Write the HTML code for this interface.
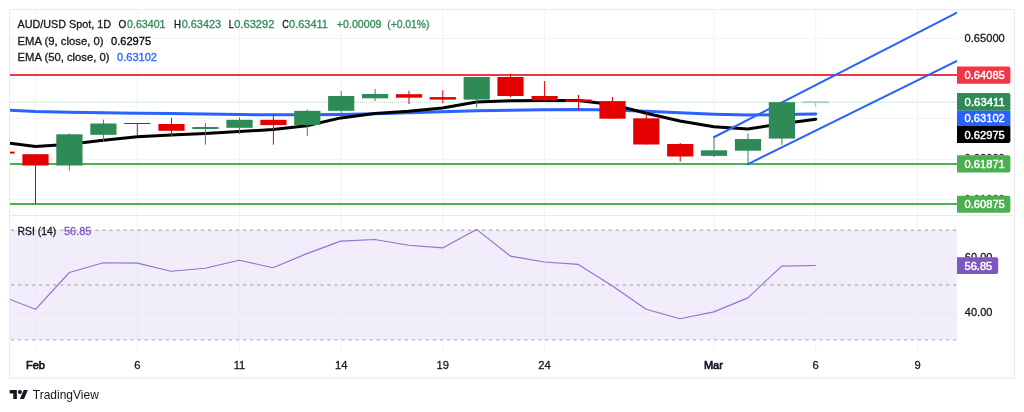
<!DOCTYPE html>
<html><head><meta charset="utf-8"><title>AUD/USD chart</title>
<style>html,body{margin:0;padding:0;background:#fff}body{width:1024px;height:412px;position:relative;overflow:hidden;font-family:"Liberation Sans",sans-serif}</style></head>
<body>
<svg width="1024" height="412" viewBox="0 0 1024 412" style="position:absolute;left:0;top:0;will-change:transform">
<defs><clipPath id="plot"><rect x="10" y="10" width="947" height="205"/></clipPath><clipPath id="rsip"><rect x="10" y="216" width="947" height="135"/></clipPath></defs>
<rect x="35.0" y="10" width="1" height="205" fill="#f3f4f7"/>
<rect x="35.0" y="216" width="1" height="135" fill="#f3f4f7"/>
<rect x="136.8" y="10" width="1" height="205" fill="#f3f4f7"/>
<rect x="136.8" y="216" width="1" height="135" fill="#f3f4f7"/>
<rect x="239.0" y="10" width="1" height="205" fill="#f3f4f7"/>
<rect x="239.0" y="216" width="1" height="135" fill="#f3f4f7"/>
<rect x="340.7" y="10" width="1" height="205" fill="#f3f4f7"/>
<rect x="340.7" y="216" width="1" height="135" fill="#f3f4f7"/>
<rect x="442.3" y="10" width="1" height="205" fill="#f3f4f7"/>
<rect x="442.3" y="216" width="1" height="135" fill="#f3f4f7"/>
<rect x="544.1" y="10" width="1" height="205" fill="#f3f4f7"/>
<rect x="544.1" y="216" width="1" height="135" fill="#f3f4f7"/>
<rect x="713.5" y="10" width="1" height="205" fill="#f3f4f7"/>
<rect x="713.5" y="216" width="1" height="135" fill="#f3f4f7"/>
<rect x="815.2" y="10" width="1" height="205" fill="#f3f4f7"/>
<rect x="815.2" y="216" width="1" height="135" fill="#f3f4f7"/>
<rect x="917.0" y="10" width="1" height="205" fill="#f3f4f7"/>
<rect x="917.0" y="216" width="1" height="135" fill="#f3f4f7"/>
<rect x="10" y="38" width="947" height="1" fill="#f3f4f7"/>
<rect x="10" y="78" width="947" height="1" fill="#f3f4f7"/>
<rect x="10" y="118" width="947" height="1" fill="#f3f4f7"/>
<rect x="10" y="159" width="947" height="1" fill="#f3f4f7"/>
<rect x="10" y="199" width="947" height="1" fill="#f3f4f7"/>
<rect x="10" y="230" width="947" height="110" fill="#f1edfa"/>
<rect x="35.0" y="230" width="1" height="110" fill="#ece8f6"/>
<rect x="136.8" y="230" width="1" height="110" fill="#ece8f6"/>
<rect x="239.0" y="230" width="1" height="110" fill="#ece8f6"/>
<rect x="340.7" y="230" width="1" height="110" fill="#ece8f6"/>
<rect x="442.3" y="230" width="1" height="110" fill="#ece8f6"/>
<rect x="544.1" y="230" width="1" height="110" fill="#ece8f6"/>
<rect x="713.5" y="230" width="1" height="110" fill="#ece8f6"/>
<rect x="815.2" y="230" width="1" height="110" fill="#ece8f6"/>
<rect x="917.0" y="230" width="1" height="110" fill="#ece8f6"/>
<rect x="10" y="257" width="947" height="1" fill="#ece8f6"/>
<rect x="10" y="312" width="947" height="1" fill="#ece8f6"/>
<line x1="10" y1="230.2" x2="957" y2="230.2" stroke="#b8b8bc" stroke-width="1.4" stroke-dasharray="3.2 3.83" stroke-dashoffset="-1"/>
<line x1="10" y1="285" x2="957" y2="285" stroke="#b8b8bc" stroke-width="1.4" stroke-dasharray="3.2 3.83" stroke-dashoffset="-1"/>
<line x1="10" y1="339.9" x2="957" y2="339.9" stroke="#b8b8bc" stroke-width="1.4" stroke-dasharray="3.2 3.83" stroke-dashoffset="-1"/>
<polyline clip-path="url(#rsip)" points="10.0,299.5 35.5,309.3 69.4,272.5 103.3,262.7 137.3,263.1 171.2,271.3 205.1,268.2 239.0,260.2 272.9,267.7 306.8,253.6 340.8,241.1 374.7,239.5 408.6,245.2 442.5,247.9 476.5,229.4 510.4,256.1 544.3,262.0 578.2,264.4 612.1,285.7 646.1,309.2 680.0,318.8 713.9,311.9 747.8,297.9 781.7,266.1 815.7,265.5" fill="none" stroke="#9273cf" stroke-width="1.15" stroke-linejoin="round"/>
<g clip-path="url(#plot)">
<line x1="10" y1="102.2" x2="957" y2="102.2" stroke="#9cc4ad" stroke-width="1" stroke-dasharray="1 1" opacity="0.75"/>
<rect x="10" y="74" width="947" height="2" fill="#f23645"/>
<rect x="10" y="163" width="947" height="2" fill="#4caf50"/>
<rect x="10" y="203" width="947" height="2" fill="#4caf50"/>
<polyline points="10.0,110.2 35.5,111.5 69.0,112.3 103.0,112.8 137.0,113.2 171.0,113.6 205.0,114.0 239.0,114.5 273.0,114.8 307.0,114.8 341.0,114.5 375.0,113.8 409.0,112.8 442.0,111.8 476.0,110.8 510.0,110.2 544.0,109.8 578.0,109.4 612.0,109.9 646.0,111.2 680.0,112.8 714.0,114.2 748.0,115.1 781.7,114.6 815.7,113.9" fill="none" stroke="#2962ff" stroke-width="3" stroke-linejoin="round" stroke-linecap="round"/>
<polyline points="10.0,143.3 35.5,146.6 69.4,144.3 103.3,140.2 137.3,136.8 171.2,134.9 205.1,133.4 239.0,131.5 272.9,129.6 306.8,125.7 340.8,117.9 374.7,113.4 408.6,111.2 442.5,108.0 476.5,102.0 510.4,100.8 544.3,100.4 578.2,100.5 612.1,104.4 646.1,113.2 680.0,121.0 713.9,126.7 747.8,129.0 781.7,123.8 815.7,119.2" fill="none" stroke="#000" stroke-width="3" stroke-linejoin="round" stroke-linecap="round"/>
<line x1="713.3" y1="137.5" x2="960" y2="11.2" stroke="#2962ff" stroke-width="2"/>
<line x1="747" y1="164.6" x2="960" y2="59.5" stroke="#2962ff" stroke-width="2"/>
<rect x="10" y="151.6" width="4.6" height="2" fill="#e50000"/>
<rect x="35.0" y="154.2" width="1" height="49.6" fill="#e50000"/>
<rect x="22.4" y="154.2" width="26.2" height="11.3" fill="#e50000"/>
<rect x="68.9" y="133.5" width="1" height="36.9" fill="#2e8b57"/>
<rect x="56.3" y="134.3" width="26.2" height="31.2" fill="#2e8b57"/>
<rect x="102.9" y="119.6" width="1" height="22.4" fill="#2e8b57"/>
<rect x="90.3" y="123.5" width="26.2" height="11.3" fill="#2e8b57"/>
<rect x="136.8" y="123.0" width="1" height="13.0" fill="#e50000"/>
<rect x="124.2" y="123.0" width="26.2" height="1.0" fill="#e50000"/>
<rect x="171.0" y="117.8" width="1" height="18.6" fill="#e50000"/>
<rect x="158.4" y="124.0" width="26.2" height="6.8" fill="#e50000"/>
<rect x="204.9" y="123.1" width="1" height="21.5" fill="#2e8b57"/>
<rect x="192.3" y="127.0" width="26.2" height="2.0" fill="#2e8b57"/>
<rect x="239.0" y="117.5" width="1" height="16.5" fill="#2e8b57"/>
<rect x="226.4" y="119.8" width="26.2" height="8.0" fill="#2e8b57"/>
<rect x="272.9" y="114.5" width="1" height="30.1" fill="#e50000"/>
<rect x="260.3" y="119.8" width="26.2" height="5.3" fill="#e50000"/>
<rect x="306.8" y="109.5" width="1" height="26.5" fill="#2e8b57"/>
<rect x="294.2" y="110.8" width="26.2" height="14.2" fill="#2e8b57"/>
<rect x="340.7" y="90.9" width="1" height="23.1" fill="#2e8b57"/>
<rect x="328.1" y="96.0" width="26.2" height="14.8" fill="#2e8b57"/>
<rect x="374.6" y="89.0" width="1" height="11.9" fill="#2e8b57"/>
<rect x="362.0" y="94.0" width="26.2" height="4.3" fill="#2e8b57"/>
<rect x="408.5" y="90.7" width="1" height="13.3" fill="#e50000"/>
<rect x="395.9" y="94.2" width="26.2" height="3.5" fill="#e50000"/>
<rect x="442.3" y="90.3" width="1" height="13.1" fill="#e50000"/>
<rect x="429.7" y="97.1" width="26.2" height="2.5" fill="#e50000"/>
<rect x="476.2" y="77.0" width="1" height="30.5" fill="#2e8b57"/>
<rect x="463.6" y="77.0" width="26.2" height="22.6" fill="#2e8b57"/>
<rect x="510.0" y="73.7" width="1" height="23.4" fill="#e50000"/>
<rect x="497.4" y="77.0" width="26.2" height="19.0" fill="#e50000"/>
<rect x="544.1" y="81.1" width="1" height="19.3" fill="#e50000"/>
<rect x="531.5" y="96.0" width="26.2" height="4.4" fill="#e50000"/>
<rect x="578.0" y="95.0" width="1" height="14.0" fill="#e50000"/>
<rect x="565.4" y="99.5" width="26.2" height="2.3" fill="#e50000"/>
<rect x="612.0" y="97.0" width="1" height="21.7" fill="#e50000"/>
<rect x="599.4" y="101.1" width="26.2" height="17.6" fill="#e50000"/>
<rect x="645.8" y="112.8" width="1" height="31.7" fill="#e50000"/>
<rect x="633.2" y="118.3" width="26.2" height="26.2" fill="#e50000"/>
<rect x="679.7" y="143.0" width="1" height="18.6" fill="#e50000"/>
<rect x="667.1" y="144.0" width="26.2" height="12.5" fill="#e50000"/>
<rect x="713.5" y="137.6" width="1" height="19.5" fill="#2e8b57"/>
<rect x="700.9" y="150.3" width="26.2" height="5.6" fill="#2e8b57"/>
<rect x="747.5" y="133.3" width="1" height="30.7" fill="#2e8b57"/>
<rect x="734.9" y="139.0" width="26.2" height="11.7" fill="#2e8b57"/>
<rect x="781.4" y="102.2" width="1" height="42.6" fill="#2e8b57"/>
<rect x="768.8" y="102.2" width="26.2" height="36.4" fill="#2e8b57"/>
<rect x="815.2" y="102" width="1" height="4.6" fill="#8fbfa3"/>
<rect x="802.6" y="101.3" width="26.2" height="1.8" fill="#a9ceb8"/>
</g>
<path d="M9.5 378 V9.5 H1014.5 V378" fill="none" stroke="#e8eaf1" stroke-width="1"/>
<rect x="9" y="377.5" width="1006" height="1" fill="#e8eaf1"/>
<rect x="10" y="215" width="1004" height="1" fill="#e8eaf1"/>
<text x="964.6" y="42.2" font-family="Liberation Sans, sans-serif" font-size="11.2" font-weight="normal" fill="#131722" stroke="#131722" stroke-width="0.3" text-anchor="start" textLength="40.2" lengthAdjust="spacingAndGlyphs">0.65000</text>
<clipPath id="pk1"><rect x="957" y="150" width="57" height="5.4"/></clipPath>
<clipPath id="pk2"><rect x="957" y="190" width="57" height="5.8"/></clipPath>
<g clip-path="url(#pk1)">
<text x="964.6" y="162.3" font-family="Liberation Sans, sans-serif" font-size="11.2" font-weight="normal" fill="#131722" stroke="#131722" stroke-width="0.3" text-anchor="start" textLength="40.2" lengthAdjust="spacingAndGlyphs">0.62000</text>
</g>
<g clip-path="url(#pk2)">
<text x="964.6" y="202.7" font-family="Liberation Sans, sans-serif" font-size="11.2" font-weight="normal" fill="#131722" stroke="#131722" stroke-width="0.3" text-anchor="start" textLength="40.2" lengthAdjust="spacingAndGlyphs">0.61000</text>
</g>
<clipPath id="pk3"><rect x="957" y="245" width="57" height="12.4"/></clipPath>
<g clip-path="url(#pk3)">
<text x="964.8" y="261.4" font-family="Liberation Sans, sans-serif" font-size="11.2" font-weight="normal" fill="#131722" stroke="#131722" stroke-width="0.3" text-anchor="start" textLength="27.6" lengthAdjust="spacingAndGlyphs">60.00</text>
</g>
<text x="964.8" y="315.9" font-family="Liberation Sans, sans-serif" font-size="11.2" font-weight="normal" fill="#131722" stroke="#131722" stroke-width="0.3" text-anchor="start" textLength="27.6" lengthAdjust="spacingAndGlyphs">40.00</text>
<path d="M957 66.5 H1008.4 a2 2 0 0 1 2 2 V81.8 a2 2 0 0 1 -2 2 H957 Z" fill="#f23645"/>
<text x="964.6" y="79.15" font-family="Liberation Sans, sans-serif" font-size="11.2" font-weight="normal" fill="#fff" stroke="#fff" stroke-width="0.45" text-anchor="start" textLength="40.2" lengthAdjust="spacingAndGlyphs">0.64085</text>
<path d="M957 93.1 H1008.4 a2 2 0 0 1 2 2 V109.6 a1.2 1.2 0 0 1 -1.2 1.2 H957 Z" fill="#2e8b57"/>
<text x="964.6" y="105.94999999999999" font-family="Liberation Sans, sans-serif" font-size="11.2" font-weight="normal" fill="#fff" stroke="#fff" stroke-width="0.45" text-anchor="start" textLength="40.2" lengthAdjust="spacingAndGlyphs">0.63411</text>
<path d="M957 110.8 H1010.39 a0.01 0.01 0 0 1 0.01 0.01 V126.08999999999999 a0.01 0.01 0 0 1 -0.01 0.01 H957 Z" fill="#2962ff"/>
<text x="964.6" y="122.44999999999999" font-family="Liberation Sans, sans-serif" font-size="11.2" font-weight="normal" fill="#fff" stroke="#fff" stroke-width="0.45" text-anchor="start" textLength="40.2" lengthAdjust="spacingAndGlyphs">0.63102</text>
<path d="M957 126.1 H1009.6 a0.8 0.8 0 0 1 0.8 0.8 V141.0 a2 2 0 0 1 -2 2 H957 Z" fill="#000"/>
<text x="964.6" y="138.55" font-family="Liberation Sans, sans-serif" font-size="11.2" font-weight="normal" fill="#fff" stroke="#fff" stroke-width="0.45" text-anchor="start" textLength="40.2" lengthAdjust="spacingAndGlyphs">0.62975</text>
<path d="M957 155.3 H1008.4 a2 2 0 0 1 2 2 V170.6 a2 2 0 0 1 -2 2 H957 Z" fill="#4caf50"/>
<text x="964.6" y="167.95" font-family="Liberation Sans, sans-serif" font-size="11.2" font-weight="normal" fill="#fff" stroke="#fff" stroke-width="0.45" text-anchor="start" textLength="40.2" lengthAdjust="spacingAndGlyphs">0.61871</text>
<path d="M957 195.7 H1008.4 a2 2 0 0 1 2 2 V210.8 a2 2 0 0 1 -2 2 H957 Z" fill="#4caf50"/>
<text x="964.6" y="208.25" font-family="Liberation Sans, sans-serif" font-size="11.2" font-weight="normal" fill="#fff" stroke="#fff" stroke-width="0.45" text-anchor="start" textLength="40.2" lengthAdjust="spacingAndGlyphs">0.60875</text>
<path d="M957 257.3 H996.2 a2 2 0 0 1 2 2 V272.0 a2 2 0 0 1 -2 2 H957 Z" fill="#7e57c2"/>
<text x="964.6" y="269.65" font-family="Liberation Sans, sans-serif" font-size="11.2" font-weight="normal" fill="#fff" stroke="#fff" stroke-width="0.45" text-anchor="start" textLength="27.6" lengthAdjust="spacingAndGlyphs">56.85</text>
<text x="17.5" y="28.3" font-family="Liberation Sans, sans-serif" font-size="11.2" font-weight="normal" fill="#131722" stroke="#131722" stroke-width="0.3" text-anchor="start" textLength="93.5" lengthAdjust="spacingAndGlyphs">AUD/USD Spot, 1D</text>
<text x="118.5" y="28.3" font-family="Liberation Sans, sans-serif" font-size="11.2" font-weight="normal" fill="#131722" stroke="#131722" stroke-width="0.3" text-anchor="start" textLength="7.8" lengthAdjust="spacingAndGlyphs">O</text>
<text x="127" y="28.3" font-family="Liberation Sans, sans-serif" font-size="11.2" font-weight="normal" fill="#2e8b57" stroke="#2e8b57" stroke-width="0.3" text-anchor="start" textLength="38.5" lengthAdjust="spacingAndGlyphs">0.63401</text>
<text x="173.9" y="28.3" font-family="Liberation Sans, sans-serif" font-size="11.2" font-weight="normal" fill="#131722" stroke="#131722" stroke-width="0.3" text-anchor="start" textLength="7" lengthAdjust="spacingAndGlyphs">H</text>
<text x="181.7" y="28.3" font-family="Liberation Sans, sans-serif" font-size="11.2" font-weight="normal" fill="#2e8b57" stroke="#2e8b57" stroke-width="0.3" text-anchor="start" textLength="39.5" lengthAdjust="spacingAndGlyphs">0.63423</text>
<text x="228.8" y="28.3" font-family="Liberation Sans, sans-serif" font-size="11.2" font-weight="normal" fill="#131722" stroke="#131722" stroke-width="0.3" text-anchor="start" textLength="5" lengthAdjust="spacingAndGlyphs">L</text>
<text x="234.3" y="28.3" font-family="Liberation Sans, sans-serif" font-size="11.2" font-weight="normal" fill="#2e8b57" stroke="#2e8b57" stroke-width="0.3" text-anchor="start" textLength="40" lengthAdjust="spacingAndGlyphs">0.63292</text>
<text x="282.2" y="28.3" font-family="Liberation Sans, sans-serif" font-size="11.2" font-weight="normal" fill="#131722" stroke="#131722" stroke-width="0.3" text-anchor="start" textLength="6.6" lengthAdjust="spacingAndGlyphs">C</text>
<text x="289" y="28.3" font-family="Liberation Sans, sans-serif" font-size="11.2" font-weight="normal" fill="#2e8b57" stroke="#2e8b57" stroke-width="0.3" text-anchor="start" textLength="39" lengthAdjust="spacingAndGlyphs">0.63411</text>
<text x="336.8" y="28.3" font-family="Liberation Sans, sans-serif" font-size="11.2" font-weight="normal" fill="#2e8b57" stroke="#2e8b57" stroke-width="0.3" text-anchor="start" textLength="44.7" lengthAdjust="spacingAndGlyphs">+0.00009</text>
<text x="387.2" y="28.3" font-family="Liberation Sans, sans-serif" font-size="11.2" font-weight="normal" fill="#2e8b57" stroke="#2e8b57" stroke-width="0.3" text-anchor="start" textLength="42.3" lengthAdjust="spacingAndGlyphs">(+0.01%)</text>
<text x="17.5" y="44.8" font-family="Liberation Sans, sans-serif" font-size="11.2" font-weight="normal" fill="#131722" stroke="#131722" stroke-width="0.3" text-anchor="start" textLength="86" lengthAdjust="spacingAndGlyphs">EMA (9, close, 0)</text>
<text x="111" y="44.8" font-family="Liberation Sans, sans-serif" font-size="11.2" font-weight="normal" fill="#000" stroke="#000" stroke-width="0.3" text-anchor="start" textLength="40.1" lengthAdjust="spacingAndGlyphs">0.62975</text>
<text x="17.5" y="61.3" font-family="Liberation Sans, sans-serif" font-size="11.2" font-weight="normal" fill="#131722" stroke="#131722" stroke-width="0.3" text-anchor="start" textLength="92" lengthAdjust="spacingAndGlyphs">EMA (50, close, 0)</text>
<text x="117" y="61.3" font-family="Liberation Sans, sans-serif" font-size="11.2" font-weight="normal" fill="#2962ff" stroke="#2962ff" stroke-width="0.3" text-anchor="start" textLength="40" lengthAdjust="spacingAndGlyphs">0.63102</text>
<text x="17.6" y="234.6" font-family="Liberation Sans, sans-serif" font-size="11.2" font-weight="normal" fill="#131722" stroke="#131722" stroke-width="0.3" text-anchor="start" textLength="38.6" lengthAdjust="spacingAndGlyphs">RSI (14)</text>
<text x="64" y="234.6" font-family="Liberation Sans, sans-serif" font-size="11.2" font-weight="normal" fill="#7e57c2" stroke="#7e57c2" stroke-width="0.3" text-anchor="start" textLength="27.4" lengthAdjust="spacingAndGlyphs">56.85</text>
<text x="35.5" y="368.8" font-family="Liberation Sans, sans-serif" font-size="11.3" font-weight="normal" fill="#131722" stroke="#131722" stroke-width="0.7" text-anchor="middle" textLength="19" lengthAdjust="spacingAndGlyphs">Feb</text>
<text x="137.3" y="368.8" font-family="Liberation Sans, sans-serif" font-size="11.2" font-weight="normal" fill="#131722" stroke="#131722" stroke-width="0.3" text-anchor="middle">6</text>
<text x="239.5" y="368.8" font-family="Liberation Sans, sans-serif" font-size="11.2" font-weight="normal" fill="#131722" stroke="#131722" stroke-width="0.3" text-anchor="middle">11</text>
<text x="341.2" y="368.8" font-family="Liberation Sans, sans-serif" font-size="11.2" font-weight="normal" fill="#131722" stroke="#131722" stroke-width="0.3" text-anchor="middle">14</text>
<text x="442.8" y="368.8" font-family="Liberation Sans, sans-serif" font-size="11.2" font-weight="normal" fill="#131722" stroke="#131722" stroke-width="0.3" text-anchor="middle">19</text>
<text x="544.6" y="368.8" font-family="Liberation Sans, sans-serif" font-size="11.2" font-weight="normal" fill="#131722" stroke="#131722" stroke-width="0.3" text-anchor="middle">24</text>
<text x="815.7" y="368.8" font-family="Liberation Sans, sans-serif" font-size="11.2" font-weight="normal" fill="#131722" stroke="#131722" stroke-width="0.3" text-anchor="middle">6</text>
<text x="917.5" y="368.8" font-family="Liberation Sans, sans-serif" font-size="11.2" font-weight="normal" fill="#131722" stroke="#131722" stroke-width="0.3" text-anchor="middle">9</text>
<text x="713.4" y="368.8" font-family="Liberation Sans, sans-serif" font-size="11.3" font-weight="normal" fill="#131722" stroke="#131722" stroke-width="0.7" text-anchor="middle" textLength="19" lengthAdjust="spacingAndGlyphs">Mar</text>
<g transform="translate(9.7,387.9) scale(0.511,0.505)" fill="#131722"><path d="M14 22H7V11H0V4h14v18zM28 22h-8l7.5-18h8L28 22z"/><circle cx="20" cy="8" r="4"/></g>
<text x="32.8" y="399.3" font-family="Liberation Sans, sans-serif" font-size="13" font-weight="normal" fill="#131722" text-anchor="start" textLength="66" lengthAdjust="spacingAndGlyphs">TradingView</text>
</svg>
</body></html>
